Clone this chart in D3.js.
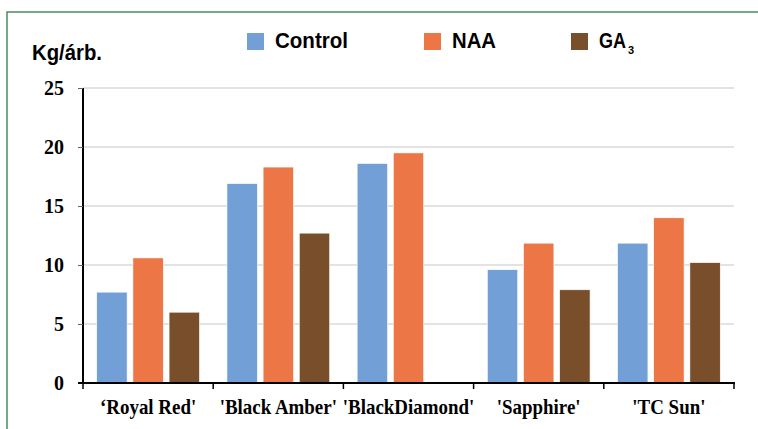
<!DOCTYPE html>
<html><head><meta charset="utf-8">
<script src="https://cdn.jsdelivr.net/npm/d3@7"></script>
<style>body{margin:0;background:#fff}svg{display:block}</style>
</head><body>
<script>
const categories = ["‘Royal Red'", "'Black Amber'", "'BlackDiamond'", "'Sapphire'", "'TC Sun'"];
const seriesNames = ["Control", "NAA", "GA3"];
const controlValues = [7.7, 16.9, 18.6, 9.6, 11.85];
const naaValues = [10.6, 18.3, 19.5, 11.85, 14.0];
const ga3Values = [6.0, 12.7, null, 7.9, 10.2];
const yTicks = [0, 5, 10, 15, 20, 25];
const colors = ["#729fd6", "#ec7646", "#794e2a"];

const W = 758, H = 429;
const svg = d3.select("body").append("svg").attr("width", W).attr("height", H);

// frame
svg.append("rect").attr("x", 7).attr("y", 12).attr("width", 800).attr("height", 500)
  .attr("fill", "none").attr("stroke", "#4e8c5e").attr("stroke-width", 1.5);

const x0 = 83, x1 = 734, yTop = 88, yBot = 383;
const x = d3.scaleBand().domain(categories).range([x0, x1]).paddingInner(0).paddingOuter(0);
const y = d3.scaleLinear().domain([0, 25]).range([yBot, yTop]);
const xs = d3.scaleBand().domain(seriesNames).range([0, x.bandwidth()]).paddingInner(0.16).paddingOuter(0.38);

// gridlines
svg.append("g").selectAll("line").data(yTicks.filter(d => d > 0)).join("line")
  .attr("x1", x0).attr("x2", x1).attr("y1", d => y(d)).attr("y2", d => y(d))
  .attr("stroke", "#c8c8c8").attr("stroke-width", 1.2);

const data = [controlValues, naaValues, ga3Values];
seriesNames.forEach((s, si) => {
  svg.append("g").selectAll("rect")
    .data(categories.map((c, i) => ({c, v: data[si][i]})).filter(d => d.v != null))
    .join("rect")
    .attr("x", d => x(d.c) + xs(s))
    .attr("width", xs.bandwidth())
    .attr("y", d => y(d.v))
    .attr("height", d => y(0) - y(d.v))
    .attr("fill", colors[si])
    .attr("stroke", "#fff").attr("stroke-width", 0.6);
});

// y axis
const yAxis = svg.append("g").attr("transform", `translate(${x0},0)`)
  .call(d3.axisLeft(y).tickValues(yTicks).tickSize(5).tickPadding(14));
yAxis.select(".domain").attr("stroke", "#000").attr("stroke-width", 2).attr("d", `M0,${yTop}V${yBot}`);
yAxis.selectAll(".tick line").attr("stroke", "#666").attr("stroke-width", 1);
yAxis.selectAll("text").attr("font-family", "Liberation Serif, serif").attr("font-weight", "bold")
  .attr("font-size", 20).attr("fill", "#000");

// x axis
const xAxis = svg.append("g").attr("transform", `translate(0,${yBot})`)
  .call(d3.axisBottom(x).tickSize(0).tickPadding(15));
xAxis.select(".domain").attr("stroke", "#000").attr("stroke-width", 2).attr("d", `M${x0 - 5},0H${x1 + 1}`);
xAxis.selectAll("text").attr("font-family", "Liberation Serif, serif").attr("font-weight", "bold")
  .attr("font-size", 22).attr("fill", "#000")
  .each(function() {
    const w = this.getComputedTextLength();
    d3.select(this).attr("textLength", w * 0.86).attr("lengthAdjust", "spacingAndGlyphs");
  });
// boundary ticks
const bounds = categories.map(c => x(c) + x.bandwidth()).concat([x0]);
svg.append("g").selectAll("line").data(bounds).join("line")
  .attr("x1", d => d).attr("x2", d => d).attr("y1", yBot).attr("y2", yBot + 6)
  .attr("stroke", "#000").attr("stroke-width", 1.5);

// helper: text squeezed horizontally to a target width
function squeezed(parent, str, tx, ty, size, targetW) {
  const g = parent.append("g");
  const t = g.append("text").attr("x", 0).attr("y", 0).text(str)
    .attr("font-family", "Liberation Sans, Arial, sans-serif").attr("font-weight", "bold")
    .attr("font-size", size).attr("fill", "#000");
  const w = t.node().getComputedTextLength();
  g.attr("transform", `translate(${tx},${ty}) scale(${targetW / w},1)`);
  return g;
}

// y unit label
squeezed(svg, "Kg/árb.", 32, 60, 22, 70);

// legend
const legX = [247, 424, 571];
const legW = [73, 44, 27];
const leg = svg.append("g");
seriesNames.forEach((s, i) => {
  leg.append("rect").attr("x", legX[i]).attr("y", 33).attr("width", 17).attr("height", 17).attr("fill", colors[i]);
  const label = s === "GA3" ? "GA" : s;
  squeezed(leg, label, legX[i] + 28, 48, 22, legW[i]);
  if (s === "GA3") {
    leg.append("text").attr("x", legX[i] + 28 + legW[i] + 2).attr("y", 54)
      .attr("font-family", "Liberation Sans, Arial, sans-serif").attr("font-weight", "bold")
      .attr("font-size", 11).attr("fill", "#000").text("3");
  }
});
</script>
</body></html>
